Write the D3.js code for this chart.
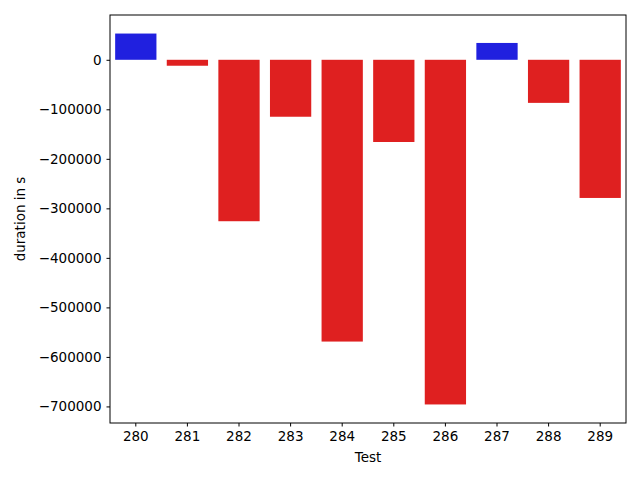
<!DOCTYPE html>
<html>
<head>
<meta charset="utf-8">
<script src="https://cdn.jsdelivr.net/npm/d3@7"></script>
<style>
  body { margin: 0; background: #fff; }
  text { font-family: "DejaVu Sans", sans-serif; }
</style>
</head>
<body>
<svg id="chart" width="640" height="480"></svg>
<script>
const tests = ["280", "281", "282", "283", "284", "285", "286", "287", "288", "289"];
const durations = [53000, -12000, -326000, -115000, -569000, -166000, -696000, 34000, -87000, -279000];
const yTicks = [0, -100000, -200000, -300000, -400000, -500000, -600000, -700000];

const margin = { top: 15, right: 14, bottom: 57, left: 110 };
const width = 640, height = 480;
const svg = d3.select("#chart");

const x = d3.scaleBand()
    .domain(tests)
    .range([margin.left, width - margin.right])
    .paddingInner(0.2)
    .paddingOuter(0.1);

const yMin = d3.min(durations), yMax = d3.max(durations);
const pad = (yMax - yMin) * 0.05;
const y = d3.scaleLinear()
    .domain([yMin - pad, yMax + pad])
    .range([height - margin.bottom, margin.top]);

// Бары
svg.selectAll(".bar")
    .data(tests)
    .enter()
    .append("rect")
    .attr("x", d => x(d))
    .attr("width", x.bandwidth())
    .attr("y", (d, i) => y(Math.max(0, durations[i])))
    .attr("height", (d, i) => Math.abs(y(durations[i]) - y(0)))
    .attr("fill", (d, i) => durations[i] >= 0 ? "#2020df" : "#df2020");

// Оси
const xAxis = svg.append("g")
    .attr("transform", `translate(0,${height - margin.bottom})`)
    .call(d3.axisBottom(x).tickSize(3.5).tickPadding(5));
const yAxis = svg.append("g")
    .attr("transform", `translate(${margin.left},0)`)
    .call(d3.axisLeft(y).tickValues(yTicks).tickFormat(d => d < 0 ? "\u2212" + Math.abs(d) : d).tickSize(3.5).tickPadding(5));

[xAxis, yAxis].forEach(a => {
    a.selectAll("text").style("font-size", "13.5px").attr("fill", "#000");
    a.selectAll("line").attr("stroke", "#000");
    a.select(".domain").remove();
});

// Рамка
svg.append("rect")
    .attr("x", margin.left)
    .attr("y", margin.top)
    .attr("width", width - margin.left - margin.right)
    .attr("height", height - margin.top - margin.bottom)
    .attr("fill", "none")
    .attr("stroke", "#000")
    .attr("stroke-width", 1);

svg.append("text")
    .attr("x", (margin.left + width - margin.right) / 2)
    .attr("y", 462)
    .attr("text-anchor", "middle")
    .style("font-size", "13.5px")
    .text("Test");

svg.append("text")
    .attr("transform", `translate(25,${(margin.top + height - margin.bottom) / 2}) rotate(-90)`)
    .attr("text-anchor", "middle")
    .style("font-size", "13.5px")
    .text("duration in s");
</script>
</body>
</html>
